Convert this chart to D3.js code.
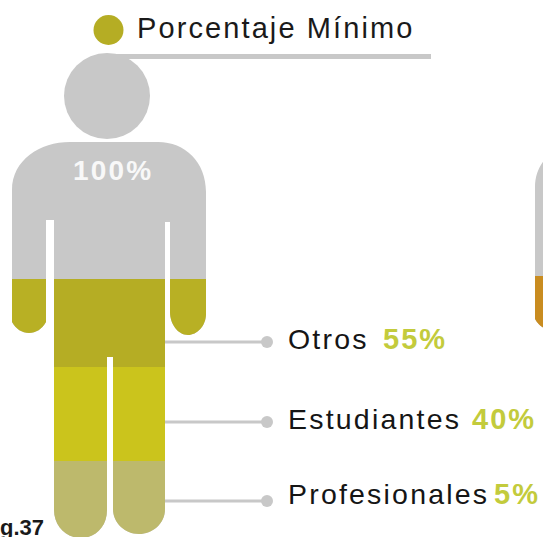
<!DOCTYPE html>
<html>
<head>
<meta charset="utf-8">
<script src="https://cdn.jsdelivr.net/npm/d3@7"></script>
<style>
  html, body { margin: 0; padding: 0; background: #fff; overflow: hidden; }
  svg { display: block; }
  text { font-family: "Liberation Sans", Arial, sans-serif; }
</style>
</head>
<body>
<div id="chart"></div>
<script>
const legendLabel = 'Porcentaje Mínimo'
const totalLabel = '100%'
const figLabel = 'Fig.37'
const categories = ['Profesionales', 'Estudiantes', 'Otros']
const values = [5, 40, 55]
const colors = ['#bdb96c', '#cbc41c', '#b5ad24']
const armColor = '#b8b024'
const secondColor = '#c98c20'
const gray = '#c8c8c8'
const accent = '#c3cb3c'

const width = 543, height = 537

// the bands in the source are not drawn to proportion, so the scale has one stop per band
let cumulative = [0]
values.forEach(v => cumulative.push(cumulative[cumulative.length - 1] + v))
const y = d3.scaleLinear().domain(cumulative).range([537, 461, 367, 279])

const svg = d3.select('#chart').append('svg')
  .attr('width', width)
  .attr('height', height)

function bodyPath() {
  let p = d3.path()
  p.moveTo(12, 190)
  p.bezierCurveTo(12, 160, 40, 142, 70, 142)
  p.lineTo(158, 142)
  p.bezierCurveTo(185, 142, 206, 162, 206, 192)
  p.lineTo(206, 314)
  p.bezierCurveTo(206, 326, 197, 335, 188, 335)
  p.bezierCurveTo(178, 335, 170, 324, 170, 312)
  p.lineTo(170, 222)
  p.lineTo(165, 222)
  p.lineTo(165, 509)
  p.bezierCurveTo(165, 524, 152, 534, 139, 534)
  p.bezierCurveTo(125, 534, 113, 523, 113, 509)
  p.lineTo(113, 357)
  p.lineTo(107, 357)
  p.lineTo(107, 510)
  p.bezierCurveTo(107, 527, 95, 538, 81, 538)
  p.bezierCurveTo(66, 538, 54, 526, 54, 510)
  p.lineTo(54, 220)
  p.lineTo(46, 220)
  p.lineTo(46, 322)
  p.bezierCurveTo(42, 329, 36, 333, 29, 333)
  p.bezierCurveTo(22, 333, 16, 329, 12, 322)
  p.closePath()
  return p.toString()
}

const defs = svg.append('defs')
defs.append('clipPath').attr('id', 'bodyClip')
  .append('path').attr('d', bodyPath())

function drawFigure(g) {
  g.append('circle').attr('cx', 107).attr('cy', 96).attr('r', 43).attr('fill', gray)
  g.append('path').attr('d', bodyPath()).attr('fill', gray)
  return g.append('g').attr('clip-path', 'url(#bodyClip)')
}

// second figure, cut by the right edge of the page
const second = drawFigure(svg.append('g').attr('transform', 'translate(523,-3)'))
second.append('rect')
  .attr('x', 0).attr('width', 210)
  .attr('y', y(100)).attr('height', y(0) - y(100))
  .attr('fill', secondColor)

// main figure
const figure = drawFigure(svg.append('g'))
figure.append('rect')
  .attr('x', 0).attr('width', 215)
  .attr('y', y(100)).attr('height', y(45) - y(100))
  .attr('fill', armColor)
figure.selectAll('.band')
  .data(values)
  .enter().append('rect')
  .attr('class', 'band')
  .attr('x', 54).attr('width', 111)
  .attr('y', (d, i) => y(cumulative[i + 1]))
  .attr('height', (d, i) => y(cumulative[i]) - y(cumulative[i + 1]))
  .attr('fill', (d, i) => colors[i])

svg.append('text')
  .attr('x', 73).attr('y', 180)
  .attr('font-size', 28).attr('font-weight', 700)
  .attr('letter-spacing', 2.2)
  .attr('fill', '#f8f8f8')
  .text(totalLabel)

// legend
svg.append('line')
  .attr('x1', 107).attr('x2', 431).attr('y1', 56.5).attr('y2', 56.5)
  .attr('stroke', gray).attr('stroke-width', 5)
svg.append('circle')
  .attr('cx', 108.5).attr('cy', 30).attr('r', 15)
  .attr('fill', colors[2])
svg.append('text')
  .attr('x', 137).attr('y', 37.5)
  .attr('font-size', 29).attr('letter-spacing', 2.1)
  .attr('fill', '#1a1a1a')
  .text(legendLabel)

// leaders and labels, bottom band first like the arrays
const leaderY = [501, 422, 342]
const labelBase = [504, 429, 349]
const valueX = [494, 472, 383]

const rows = svg.selectAll('.row')
  .data(categories)
  .enter().append('g')
  .attr('class', 'row')
rows.append('line')
  .attr('x1', 165).attr('x2', 268)
  .attr('y1', (d, i) => leaderY[i]).attr('y2', (d, i) => leaderY[i])
  .attr('stroke', gray).attr('stroke-width', 3)
rows.append('circle')
  .attr('cx', 267).attr('cy', (d, i) => leaderY[i]).attr('r', 6)
  .attr('fill', gray)
rows.append('text')
  .attr('x', 288).attr('y', (d, i) => labelBase[i])
  .attr('font-size', 28.5).attr('letter-spacing', 2.2)
  .attr('fill', '#151515')
  .text(d => d)
rows.append('text')
  .attr('x', (d, i) => valueX[i]).attr('y', (d, i) => labelBase[i])
  .attr('font-size', 29).attr('font-weight', 700).attr('letter-spacing', 2)
  .attr('fill', accent)
  .text((d, i) => values[i] + '%')

svg.append('text')
  .attr('x', 44).attr('y', 535)
  .attr('text-anchor', 'end')
  .attr('font-size', 22).attr('font-weight', 700)
  .attr('fill', '#1a1a1a')
  .text(figLabel)
</script>
</body>
</html>
